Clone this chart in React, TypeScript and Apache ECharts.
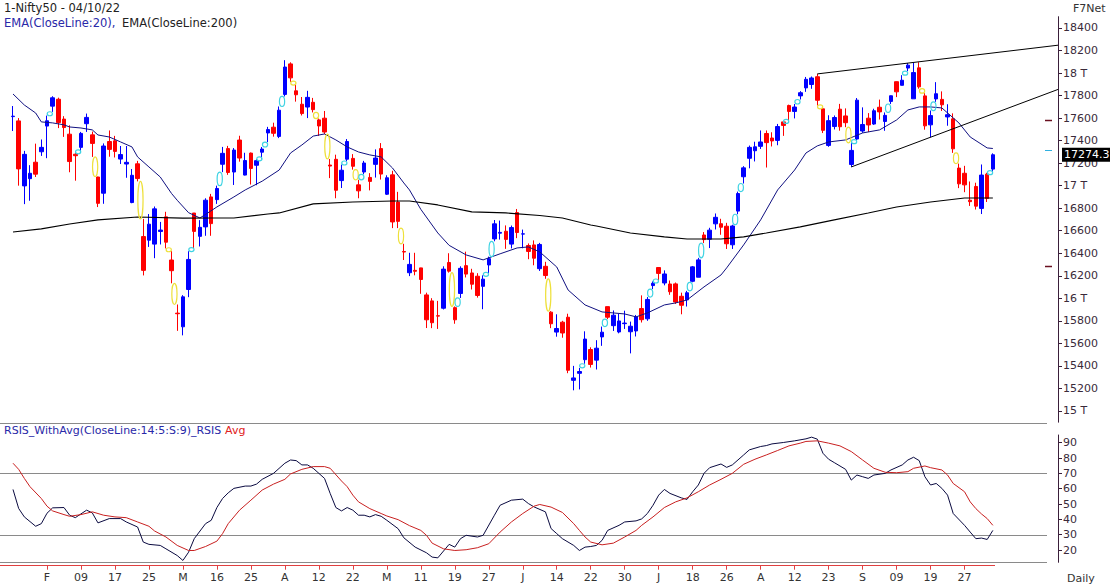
import React, { useEffect, useRef } from "react";
import * as echarts from "echarts";

const FONT = '"DejaVu Sans", Verdana, sans-serif';

const dateList = (
  "01-21 01-24 01-25 01-27 01-28 01-31 02-01 02-02 02-03 02-04 02-07 02-08 02-09 02-10 02-11 02-14 02-15 02-16 02-17 02-18 02-21 02-22 02-23 02-24 02-25 02-28 " +
  "03-02 03-03 03-04 03-07 03-08 03-09 03-10 03-11 03-14 03-15 03-16 03-17 03-21 03-22 03-23 03-24 03-25 03-28 03-29 03-30 03-31 " +
  "04-01 04-04 04-05 04-06 04-07 04-08 04-11 04-12 04-13 04-18 04-19 04-20 04-21 04-22 04-25 04-26 04-27 04-28 04-29 " +
  "05-02 05-04 05-05 05-06 05-09 05-10 05-11 05-12 05-13 05-16 05-17 05-18 05-19 05-20 05-23 05-24 05-25 05-26 05-27 05-30 05-31 " +
  "06-01 06-02 06-03 06-06 06-07 06-08 06-09 06-10 06-13 06-14 06-15 06-16 06-17 06-20 06-21 06-22 06-23 06-24 06-27 06-28 06-29 06-30 " +
  "07-01 07-04 07-05 07-06 07-07 07-08 07-11 07-12 07-13 07-14 07-15 07-18 07-19 07-20 07-21 07-22 07-25 07-26 07-27 07-28 07-29 " +
  "08-01 08-02 08-03 08-04 08-05 08-08 08-10 08-11 08-12 08-16 08-17 08-18 08-19 08-22 08-23 08-24 08-25 08-26 08-29 08-30 " +
  "09-01 09-02 09-05 09-06 09-07 09-08 09-09 09-12 09-13 09-14 09-15 09-16 09-19 09-20 09-21 09-22 09-23 09-26 09-27 09-28 09-29 09-30 " +
  "10-03 10-04"
).split(" ");

const padNames = ["p1", "p2", "p3", "p4", "p5", "p6", "p7", "p8", "p9", "p10", "p11"];

const opens = [
  17613, 17575, 16998, 17062, 17208, 17301, 17529, 17706, 17767, 17591,
  17457, 17279, 17340, 17550, 17451, 17077, 16933, 17392, 17398, 17236,
  17192, 16850, 17194, 16548, 16516, 16481, 16593, 16723, 16340, 15868,
  15747, 16078, 16757, 16550, 16634, 16900, 16876, 17190, 17329, 17121,
  17405, 17094, 17289, 17181, 17297, 17468, 17519, 17437, 17810, 18081,
  17842, 17723, 17698, 17740, 17584, 17599, 17183, 17234, 17045, 17235,
  17242, 17007, 17121, 17073, 17189, 17329, 16924, 17096, 16854, 16415,
  16227, 16248, 16270, 16030, 15977, 15845, 15912, 16318, 15917, 16043,
  16290, 16225, 16196, 16106, 16296, 16527, 16578, 16595, 16481, 16761,
  16570, 16469, 16474, 16263, 16284, 15877, 15700, 15788, 15832, 15272,
  15334, 15455, 15545, 15451, 15657, 15926, 15757, 15701, 15775, 15703,
  15710, 15909, 15818, 16113, 16273, 16136, 16127, 16128, 16018, 15986,
  16151, 16187, 16562, 16524, 16661, 16662, 16640, 16475, 16774, 17079,
  17243, 17310, 17349, 17463, 17423, 17402, 17566, 17712, 17659, 17797,
  17868, 17898, 17967, 17682, 17357, 17525, 17679, 17619, 17188, 17414,
  17485, 17599, 17547, 17696, 17570, 17748, 17923, 17891, 18044, 17771,
  18046, 17797, 17540, 17770, 17766, 17610, 17593, 17156, 17110, 16871,
  16993, 16798, 17102, 17147,
];

const highs = [
  17707, 17600, 17309, 17182, 17373, 17410, 17622, 17794, 17781, 17617,
  17536, 17294, 17477, 17640, 17480, 17079, 17375, 17490, 17442, 17352,
  17352, 17148, 17220, 16705, 16748, 16815, 16678, 16768, 16419, 15945,
  16028, 16418, 16757, 16694, 16888, 16927, 17000, 17344, 17353, 17334,
  17443, 17292, 17294, 17236, 17343, 17522, 17559, 17703, 18114, 18095,
  17901, 17787, 17842, 17779, 17596, 17663, 17237, 17275, 17187, 17414,
  17280, 17052, 17220, 17111, 17322, 17378, 17092, 17132, 16945, 16484,
  16404, 16404, 16271, 16050, 16001, 15977, 16284, 16400, 15928, 16284,
  16414, 16262, 16223, 16204, 16370, 16695, 16690, 16647, 16646, 16793,
  16610, 16487, 16514, 16492, 16324, 15886, 15858, 15800, 15863, 15400,
  15382, 15707, 15565, 15628, 15749, 15927, 15892, 15861, 15890, 15793,
  15852, 16026, 16011, 16150, 16275, 16248, 16158, 16140, 16050, 16066,
  16287, 16359, 16588, 16626, 16753, 16706, 16670, 16653, 16947, 17173,
  17356, 17390, 17490, 17490, 17474, 17548, 17566, 17719, 17725, 17839,
  17965, 17969, 17992, 17690, 17625, 17623, 17726, 17686, 17380, 17778,
  17695, 17644, 17683, 17764, 17650, 17792, 17925, 17981, 18088, 18091,
  18096, 17821, 17667, 17919, 17837, 17723, 17642, 17196, 17176, 17037,
  17026, 17188, 17114, 17287,
];

const lows = [
  17485, 17000, 16836, 16866, 17077, 17264, 17244, 17655, 17511, 17433,
  17119, 17044, 17306, 17477, 17255, 16810, 16839, 17257, 17250, 17192,
  17070, 16844, 17038, 16203, 16456, 16356, 16478, 16443, 16133, 15711,
  15671, 16010, 16447, 16460, 16555, 16555, 16838, 17120, 17096, 17006,
  17213, 17091, 17010, 17004, 17240, 17387, 17435, 17422, 17792, 17921,
  17746, 17623, 17600, 17650, 17442, 17457, 17067, 16888, 16979, 17215,
  17142, 16888, 17101, 16958, 17072, 17054, 16917, 16623, 16623, 16340,
  16197, 16204, 16040, 15736, 15735, 15728, 15901, 16228, 15774, 16003,
  16185, 16078, 16006, 15903, 16221, 16506, 16521, 16439, 16443, 16534,
  16444, 16347, 16293, 16243, 16173, 15735, 15659, 15650, 15335, 15183,
  15191, 15419, 15385, 15368, 15578, 15815, 15710, 15689, 15728, 15511,
  15661, 15785, 15800, 16081, 16157, 16115, 16031, 15950, 15858, 15927,
  16142, 16187, 16490, 16446, 16611, 16564, 16438, 16438, 16746, 17019,
  17154, 17215, 17326, 17161, 17348, 17359, 17442, 17575, 17597, 17765,
  17833, 17860, 17710, 17467, 17345, 17499, 17488, 17519, 17166, 17401,
  17469, 17476, 17540, 17587, 17487, 17725, 17786, 17890, 18016, 17771,
  17861, 17497, 17430, 17744, 17663, 17532, 17291, 16978, 16942, 16820,
  16788, 16748, 16855, 17117,
];

const closes = [
  17617, 17149, 17278, 17110, 17102, 17340, 17576, 17780, 17560, 17516,
  17214, 17266, 17464, 17606, 17375, 16843, 17352, 17322, 17304, 17276,
  17207, 17092, 17063, 16248, 16658, 16794, 16606, 16498, 16245, 15863,
  16013, 16345, 16594, 16630, 16871, 16663, 16975, 17287, 17117, 17316,
  17245, 17223, 17153, 17222, 17325, 17498, 17465, 17670, 18053, 17957,
  17807, 17640, 17784, 17675, 17530, 17476, 17174, 16959, 17137, 17392,
  17172, 16954, 17201, 17038, 17245, 17103, 17070, 16678, 16683, 16411,
  16301, 16240, 16167, 15809, 15783, 15842, 16259, 16241, 15809, 16266,
  16215, 16125, 16025, 16170, 16352, 16661, 16585, 16523, 16628, 16584,
  16572, 16416, 16356, 16478, 16202, 15774, 15732, 15692, 15361, 15293,
  15350, 15638, 15413, 15557, 15699, 15832, 15850, 15799, 15780, 15752,
  15835, 15810, 15990, 16133, 16221, 16216, 16058, 15967, 15938, 16049,
  16279, 16341, 16521, 16605, 16719, 16631, 16484, 16642, 16930, 17158,
  17340, 17345, 17388, 17382, 17397, 17525, 17535, 17659, 17698, 17825,
  17944, 17956, 17758, 17491, 17577, 17605, 17523, 17559, 17313, 17759,
  17543, 17539, 17665, 17655, 17624, 17798, 17833, 17936, 18070, 18004,
  17877, 17531, 17622, 17816, 17718, 17630, 17327, 17016, 17007, 16858,
  16818, 17094, 16887, 17274.3,
];

const ema20Points = [
  [0, 17814], [2, 17716], [4, 17645], [5, 17566], [7, 17557], [9, 17540], [10, 17521], [12, 17512],
  [14, 17495], [15, 17450], [17, 17432], [19, 17388], [21, 17344], [22, 17255], [24, 17166], [26, 17077],
  [28, 16930], [29, 16870], [31, 16760], [33, 16713], [34, 16745], [36, 16811], [39, 16900], [41, 16962],
  [44, 17040], [47, 17139], [49, 17290], [51, 17361], [53, 17440], [55, 17459], [57, 17406], [59, 17344],
  [61, 17299], [63, 17273], [65, 17255], [67, 17157], [69, 17024], [70, 16962], [72, 16790], [75, 16580],
  [77, 16470], [80, 16385], [83, 16341], [86, 16395], [89, 16447], [91, 16456], [93, 16412], [96, 16278],
  [98, 16074], [101, 15941], [104, 15879], [108, 15861], [110, 15835], [112, 15870], [115, 15941], [117, 15959],
  [119, 15985], [122, 16101], [125, 16207], [126, 16270], [129, 16474], [132, 16696], [135, 16962], [138, 17139],
  [140, 17290], [142, 17353], [144, 17388], [147, 17406], [150, 17468], [153, 17495], [156, 17583], [158, 17672],
  [160, 17699], [162, 17699], [164, 17690], [167, 17557], [169, 17432], [172, 17335], [173, 17330],
];

const ema200Points = [
  [0, 16589], [5, 16616], [10, 16660], [15, 16696], [22, 16722], [30, 16712], [35, 16713], [39, 16713],
  [45, 16749], [47, 16758], [53, 16838], [60, 16855], [67, 16864], [70, 16864], [75, 16829], [81, 16767],
  [87, 16758], [93, 16735], [97, 16713], [102, 16651], [103, 16642], [109, 16580], [115, 16545], [119, 16527],
  [125, 16527], [129, 16545], [133, 16580], [139, 16634], [145, 16696], [151, 16758], [156, 16811], [162, 16855],
  [168, 16891], [173, 16891],
];

const rsiPoints = [
  [0, 59.5], [1, 47.1], [2, 41.6], [4, 35.5], [5, 37.2], [6, 44], [7, 47.5], [9, 47.7], [10, 42.7], [11, 41.1],
  [13, 46], [14, 44.2], [15, 37.7], [17, 40.5], [19, 40.5], [20, 38.3], [22, 35], [23, 25.2], [24, 23.7], [26, 23],
  [27, 20.8], [29, 16.4], [30, 13.2], [31, 18.6], [32, 27.4], [34, 37.2], [35, 39.4], [36, 47.7], [37, 53.6], [38, 57.3],
  [39, 60.2], [41, 61.7], [42, 61.7], [43, 63], [44, 66.1], [46, 70], [48, 76.6], [49, 78.7], [50, 78.3], [51, 75.5],
  [52, 75.5], [53, 73.3], [55, 66.7], [56, 56.9], [57, 47.7], [58, 45.5], [59, 47.7], [60, 46], [61, 42.7], [62, 42.7],
  [63, 41.6], [64, 43.1], [65, 42], [66, 39.4], [68, 33.9], [69, 28], [71, 21.9], [73, 18.2], [74, 15.4], [75, 14.9],
  [77, 23.7], [78, 21.9], [79, 27.4], [80, 29.6], [82, 28.5], [83, 29.6], [85, 42.7], [86, 49.2], [88, 52.5], [90, 53.2],
  [91, 50.3], [92, 48.1], [94, 44.9], [95, 34], [96, 30.7], [97, 27.4], [99, 23], [100, 19.7], [101, 21.9], [102, 22.3],
  [103, 23], [104, 26.3], [105, 32.8], [107, 36.1], [108, 38.3], [110, 39], [111, 40.3], [112, 43.8], [113, 49.2], [114, 55.8],
  [115, 59.5], [116, 56.9], [118, 54], [119, 53], [120, 58], [121, 62.4], [122, 70], [123, 73.7], [125, 76.1], [126, 73.9],
  [127, 75.5], [129, 82], [130, 85.3], [132, 87.5], [133, 88.1], [134, 89.2], [136, 90.1], [138, 91.2], [140, 92.5], [141, 93.6],
  [142, 92.3], [143, 83.1], [144, 79.2], [145, 77], [147, 72.6], [148, 65.6], [149, 68.9], [150, 67.8], [151, 66.7], [152, 68.9],
  [154, 70], [155, 72.2], [157, 75.5], [158, 78.7], [159, 80.5], [160, 78.3], [161, 67.8], [162, 62.4], [163, 63.4], [164, 60.2],
  [165, 55.8], [166, 43.8], [168, 36.1], [169, 31.7], [170, 27.4], [171, 27.8], [172, 26.9], [173, 32.8],
];

const rsiAvgPoints = [
  [0, 76.6], [1, 72.6], [2, 66.7], [3, 61.3], [5, 53.6], [6, 48.6], [7, 45.5], [9, 43.1], [10, 42], [12, 43.1],
  [14, 44.9], [16, 42.7], [18, 41.6], [20, 41.1], [22, 38.3], [24, 35.5], [25, 32.4], [27, 28.5], [29, 23], [31, 19.7],
  [32, 19.7], [34, 22.3], [36, 25.8], [37, 30.7], [38, 37.2], [40, 46], [42, 52.5], [44, 59.1], [46, 63], [48, 66.1],
  [49, 69.6], [51, 72.6], [53, 74.4], [55, 74.4], [56, 73.3], [58, 65], [59, 61.3], [60, 55.8], [61, 51.4], [63, 47],
  [65, 43.8], [66, 42.2], [68, 39.8], [70, 35.9], [72, 32.8], [73, 29.6], [74, 24.5], [76, 20.8], [78, 19.7], [80, 20.2],
  [82, 21.5], [84, 24.1], [86, 31.7], [88, 38.3], [90, 43.8], [92, 48.6], [93, 49.7], [95, 48], [97, 44.5], [99, 37.2],
  [100, 32.8], [101, 28.5], [102, 25.2], [104, 23.4], [106, 24.5], [108, 28.5], [110, 32.8], [111, 36.1], [113, 41.6], [115, 47.7],
  [117, 51.4], [119, 54], [121, 58], [123, 62.4], [125, 66.1], [127, 70], [129, 75.9], [131, 79.2], [133, 82], [135, 84.9],
  [137, 87.9], [139, 89.7], [140, 90.8], [142, 91.2], [144, 89.7], [146, 87.9], [148, 84.2], [150, 78.7], [152, 73.3], [154, 70.7],
  [156, 70.4], [158, 71.1], [159, 73.3], [161, 74.8], [162, 73.7], [164, 72.2], [165, 68.9], [166, 63.4], [168, 58], [169, 51.4],
  [170, 47], [171, 43.5], [172, 40.5], [173, 36.1],
];

// trend line anchors: [x1, y1, x2, y2] (bar index, price); drawn on to the axis
const trendLines = [
  [142, 17992, 158, 18088],
  [148, 17166, 162, 17430],
];

const priceTicks = [15000, 15200, 15400, 15600, 15800, 16000, 16200, 16400, 16600, 16800, 17000, 17200, 17400, 17600, 17800, 18000, 18200, 18400];
const rsiTicks = [20, 30, 40, 50, 60, 70, 80, 90];
const rsiLevels = [70, 30];
const xTickLabels = ["F", "09", "17", "25", "M", "16", "25", "A", "12", "22", "M", "11", "19", "27", "J", "14", "22", "30", "J", "18", "26", "A", "12", "23", "S", "09", "19", "27"];
const firstTickIndex = 6;
const tickStep = 6;
const axisMarkLevels = [17580, 16290];
const emaMarkLevels = [17313];

function buildOption() {
  const categories = dateList.concat(padNames);
  const candleData = opens.map((o, i) => [o, closes[i], lows[i], highs[i]]);
  const gaps: number[][] = [];
  for (let i = 1; i < opens.length; i++) {
    if (lows[i] > highs[i - 1]) gaps.push([i, highs[i - 1], lows[i], 1]);
    else if (highs[i] < lows[i - 1]) gaps.push([i, highs[i], lows[i - 1], 0]);
  }
  const lastClose = closes[closes.length - 1];
  const isTick = (index: number) => {
    const k = (index - firstTickIndex) / tickStep;
    return index >= firstTickIndex && Number.isInteger(k) && k < xTickLabels.length;
  };
  const gridLeft = 10.17;
  const gridRight = 52;
  const axisColor = "#3a1f3a";
  const labelColor = "#3a2a3a";
  const redAxis = "#e04040";
  const grayLine = "#8a8a8a";
  const titleFont = `11.5px ${FONT}`;

  return {
    animation: false,
    backgroundColor: "#ffffff",
    grid: [
      { left: gridLeft, right: gridRight, top: 16.7, height: 405.5 },
      { left: gridLeft, right: gridRight, top: 435, height: 127.3 },
    ],
    xAxis: [
      {
        gridIndex: 0, type: "category", data: categories, boundaryGap: true,
        axisLine: { show: false }, axisTick: { show: false }, axisLabel: { show: false }, splitLine: { show: false },
      },
      {
        gridIndex: 1, type: "category", data: categories, boundaryGap: true, position: "bottom", offset: 3.4,
        axisLine: { show: false },
        axisTick: { show: true, alignWithLabel: true, interval: (i: number) => isTick(i), length: 4, lineStyle: { color: redAxis } },
        axisLabel: {
          interval: (i: number) => isTick(i),
          formatter: (_v: string, i: number) => xTickLabels[(i - firstTickIndex) / tickStep] ?? "",
          color: "#333", fontSize: 11, fontFamily: FONT, margin: 6,
        },
        splitLine: { show: false },
      },
    ],
    yAxis: [
      {
        gridIndex: 0, type: "value", position: "right", min: 14900, max: 18500, scale: true,
        axisLine: { show: true, lineStyle: { color: axisColor } },
        axisTick: { show: true, length: 4, lineStyle: { color: axisColor }, customValues: priceTicks },
        axisLabel: {
          color: labelColor, fontSize: 11, fontFamily: FONT, margin: 5, customValues: priceTicks,
          formatter: (v: number) => (v % 1000 === 0 ? `${v / 1000} T` : String(v)),
        },
        splitLine: { show: false },
      },
      {
        gridIndex: 1, type: "value", position: "right", min: 12, max: 95,
        axisLine: { show: true, lineStyle: { color: axisColor } },
        axisTick: { show: true, length: 4, lineStyle: { color: axisColor }, customValues: rsiTicks },
        axisLabel: { color: labelColor, fontSize: 11, fontFamily: FONT, margin: 5, customValues: rsiTicks },
        splitLine: { show: false },
      },
    ],
    series: [
      {
        type: "candlestick", xAxisIndex: 0, yAxisIndex: 0, data: candleData, barWidth: 4, silent: true,
        itemStyle: { color: "#0000ff", color0: "#ff0000", borderColor: "#0000ff", borderColor0: "#ff0000", borderWidth: 1 },
        markLine: {
          silent: true, symbol: ["none", "none"],
          lineStyle: { color: "rgba(0,0,0,0)", width: 1, type: "solid" },
          emphasis: { disabled: true },
          label: {
            show: true, position: "end", distance: 4, formatter: () => lastClose.toFixed(1),
            backgroundColor: "#000000", color: "#ffffff", padding: [2, 1, 1, 2], fontSize: 11, fontFamily: FONT, opacity: 1,
          },
          data: [{ yAxis: lastClose }],
        },
      },
      {
        type: "line", xAxisIndex: 0, yAxisIndex: 0, data: ema20Points, symbol: "none", silent: true,
        lineStyle: { color: "#101080", width: 1 }, z: 3,
      },
      {
        type: "line", xAxisIndex: 0, yAxisIndex: 0, data: ema200Points, symbol: "none", silent: true,
        lineStyle: { color: "#000000", width: 1.1 }, z: 3,
      },
      {
        type: "custom", xAxisIndex: 0, yAxisIndex: 0, data: gaps, silent: true, z: 4,
        encode: { x: 0, y: [1, 2] },
        renderItem: (_p: any, api: any) => {
          const i = api.value(0) as number;
          const lo = api.value(1) as number;
          const hi = api.value(2) as number;
          const up = api.value(3) as number;
          const a = api.coord([i - 1, lo]);
          const b = api.coord([i, hi]);
          const cx = (a[0] + b[0]) / 2;
          const cy = (a[1] + b[1]) / 2;
          const ry = Math.max(2, Math.abs(a[1] - b[1]) / 2);
          return {
            type: "ellipse",
            shape: { cx, cy, rx: 2.6, ry },
            style: { fill: "none", stroke: up ? "#3fd3e3" : "#eee03a", lineWidth: 1.2 },
          };
        },
      },
      {
        type: "custom", xAxisIndex: 0, yAxisIndex: 0, data: trendLines, silent: true, z: 4,
        encode: { x: [0, 2], y: [1, 3] },
        renderItem: (p: any, api: any) => {
          const a = api.coord([api.value(0), api.value(1)]);
          const b = api.coord([api.value(2), api.value(3)]);
          const xEnd = p.coordSys.x + p.coordSys.width;
          const yEnd = a[1] + ((b[1] - a[1]) * (xEnd - a[0])) / (b[0] - a[0]);
          return { type: "line", shape: { x1: a[0], y1: a[1], x2: xEnd, y2: yEnd }, style: { stroke: "#000", lineWidth: 1 } };
        },
      },
      {
        type: "custom", xAxisIndex: 0, yAxisIndex: 0, data: axisMarkLevels.map((v) => [0, v]), silent: true, z: 4,
        renderItem: (p: any, api: any) => {
          const y = Math.round(api.coord([0, api.value(1)])[1]) + 0.5;
          const xr = p.coordSys.x + p.coordSys.width;
          return { type: "line", shape: { x1: xr - 13, y1: y, x2: xr - 6, y2: y }, style: { stroke: "#6a1020", lineWidth: 1.5 } };
        },
      },
      {
        type: "custom", xAxisIndex: 0, yAxisIndex: 0, data: emaMarkLevels.map((v) => [0, v]), silent: true, z: 4,
        renderItem: (p: any, api: any) => {
          const y = Math.round(api.coord([0, api.value(1)])[1]) + 0.5;
          const xr = p.coordSys.x + p.coordSys.width;
          return { type: "line", shape: { x1: xr - 13, y1: y, x2: xr - 6, y2: y }, style: { stroke: "#30b0e0", lineWidth: 1 } };
        },
      },
      {
        type: "custom", xAxisIndex: 1, yAxisIndex: 1, data: rsiLevels.map((v) => [0, v]), silent: true, z: 1,
        renderItem: (_p: any, api: any) => {
          const y = Math.round(api.coord([0, api.value(1)])[1]) + 0.5;
          return { type: "line", shape: { x1: 0, y1: y, x2: 1047, y2: y }, style: { stroke: grayLine, lineWidth: 1 } };
        },
      },
      {
        type: "line", xAxisIndex: 1, yAxisIndex: 1, data: rsiPoints, symbol: "none", silent: true,
        lineStyle: { color: "#0a0a40", width: 1 }, z: 3,
      },
      {
        type: "line", xAxisIndex: 1, yAxisIndex: 1, data: rsiAvgPoints, symbol: "none", silent: true,
        lineStyle: { color: "#c82020", width: 1 }, z: 3,
      },
    ],
    graphic: [
      { type: "line", silent: true, shape: { x1: 0, y1: 423.5, x2: 1047, y2: 423.5 }, style: { stroke: grayLine, lineWidth: 1 } },
      { type: "line", silent: true, shape: { x1: 0, y1: 562.5, x2: 1047, y2: 562.5 }, style: { stroke: grayLine, lineWidth: 1 } },
      { type: "line", silent: true, shape: { x1: 0, y1: 565.5, x2: 995, y2: 565.5 }, style: { stroke: redAxis, lineWidth: 1 } },
      { type: "text", silent: true, x: 4, y: 8, style: { text: "1-Nifty50 - 04/10/22", fill: "#222", font: titleFont, verticalAlign: "middle" } },
      { type: "text", silent: true, x: 4, y: 23, style: { text: "EMA(CloseLine:20),", fill: "#2929a8", font: titleFont, verticalAlign: "middle" } },
      { type: "text", silent: true, x: 122, y: 23, style: { text: "EMA(CloseLine:200)", fill: "#222", font: titleFont, verticalAlign: "middle" } },
      { type: "text", silent: true, x: 1073, y: 8, style: { text: "F7Net", fill: "#333", font: `11px ${FONT}`, verticalAlign: "middle" } },
      { type: "text", silent: true, x: 4, y: 430, style: { text: "RSIS_WithAvg(CloseLine:14:5:S:9)_RSIS", fill: "#2929a8", font: `11px ${FONT}`, verticalAlign: "middle" } },
      { type: "text", silent: true, x: 225, y: 430, style: { text: "Avg", fill: "#e02020", font: `11px ${FONT}`, verticalAlign: "middle" } },
      { type: "text", silent: true, x: 1067, y: 578, style: { text: "Daily", fill: "#333", font: `11px ${FONT}`, verticalAlign: "middle" } },
    ],
  };
}

export default function App() {
  const ref = useRef<HTMLDivElement>(null);
  useEffect(() => {
    document.body.style.margin = "0";
    if (!ref.current) return;
    const chart = echarts.init(ref.current, null, { renderer: "svg" });
    chart.setOption(buildOption() as any);
    return () => chart.dispose();
  }, []);
  return <div ref={ref} style={{ width: 1110, height: 587 }} />;
}
